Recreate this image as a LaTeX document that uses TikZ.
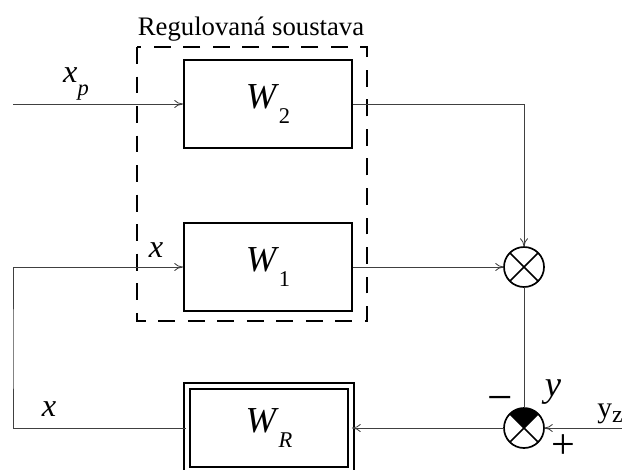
\documentclass[tikz,border=0pt]{standalone}
\usepackage{fontspec}
\setmainfont{Liberation Serif}
\usetikzlibrary{arrows.meta}
\newcommand{\dolniindex}[1]{\raisebox{-.4em}{\fontsize{16}{16}\selectfont #1}}

\begin{document}
\begin{tikzpicture}[x=0.025cm,y=-0.025cm,>={To[length=2.2mm,width=2mm]},
  blok/.style={draw,line width=1.4pt,minimum width=4.2cm,minimum height=2.2cm,font=\fontsize{26}{28}\selectfont},
  uzel/.style={draw,circle,line width=1.2pt,minimum size=1cm,inner sep=0pt,outer sep=0pt},
  spoj/.style={draw=black!75,line width=0.6pt},
  popis/.style={font=\fontsize{23}{25}\selectfont\itshape,inner sep=1pt},
  znak/.style={font=\fontsize{30}{32}\selectfont,inner sep=1pt}]
\clip (0,0) rectangle (622,469);
% regulovana soustava
\draw[line width=1.4pt,dash pattern=on 12pt off 9pt] (137,47) rectangle (367,321);
\node[font=\fontsize{19}{22}\selectfont] (nadpis) at (251,29) {Regulovaná soustava};
\node[blok] (w2) at (268,104) {\textit{W}\dolniindex{2}};
\node[blok] (w1) at (268,267) {\textit{W}\dolniindex{1}};
\node[blok,line width=1.3pt,double,double distance=2.8pt,minimum width=4.1cm,minimum height=2.1cm] (wr) at (269,428) {\textit{W}\dolniindex{\textit{R}}};
% uzly
\node[uzel] (mul) at (524,267) {};
\draw[line width=1.2pt] (mul.45) -- (mul.225) (mul.135) -- (mul.315);
\node[uzel] (sum) at (524,428) {};
\fill (sum.center) -- (sum.45) arc[start angle=45,end angle=135,radius=0.5cm] -- cycle;
\draw[line width=1.2pt] (sum.45) -- (sum.225) (sum.135) -- (sum.315);
% spoje
\coordinate (xp) at (13,104);
\coordinate (yz) at (622,428);
\coordinate (roh) at (13,350);
\draw[spoj,->] (xp) -- (w2.west);
\draw[spoj,->] (w2.east) -| (mul.north);
\draw[spoj,->] (w1.east) -- (mul.west);
\draw[spoj] (mul.south) -- (sum.north);
\draw[spoj,->] (yz) -- (sum.east);
\draw[spoj,->] (sum.west) -- (wr.east);
\draw[spoj,->] (wr.west) -| (roh) |- (w1.west);
% popisy
\node[popis] (lxp) at (76,84) {x\dolniindex{p}};
\node[popis] (lx1) at (156,250) {x};
\node[popis] (lx2) at (49,409) {x};
\node[popis,font=\fontsize{26}{28}\selectfont\itshape] (ly) at (553,392) {y};
\node[znak,font=\fontsize{32}{34}\selectfont] (lminus) at (500,404) {−};
\node[znak] (lplus) at (563,447) {+};
\node[font=\fontsize{21}{22}\selectfont,anchor=west,inner sep=0pt] (lyz) at (597,414) {y\raisebox{-.15em}{\fontsize{17}{17}\selectfont z}};
\end{tikzpicture}
\end{document}
